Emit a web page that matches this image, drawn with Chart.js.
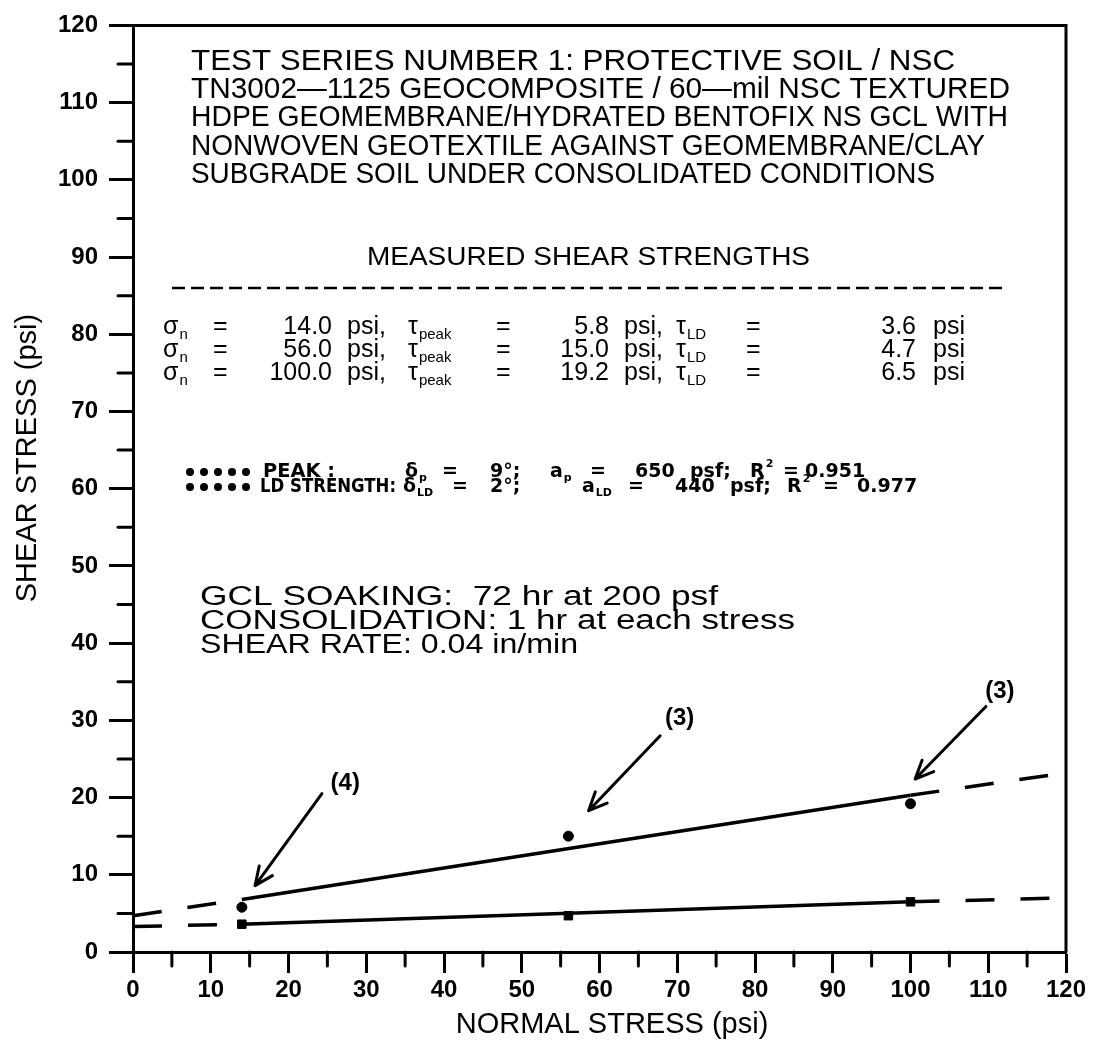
<!DOCTYPE html>
<html>
<head>
<meta charset="utf-8">
<script src="https://cdn.jsdelivr.net/npm/chart.js@4.4.1/dist/chart.umd.min.js"></script>
<style>
  html, body { margin: 0; padding: 0; background: #fff; }
</style>
</head>
<body>
<canvas id="myChart" width="1094" height="1046"></canvas>
<script>
// measured points
const normalStress = [14, 56, 100];
const peakShear = [5.8, 15.0, 19.2];
const ldShear = [3.6, 4.7, 6.5];

// fitted envelopes (dashed outside the test range)
const fitStress = [0, 14, 100, 120];
const peakFit = [4.7, 6.8, 20.3, 23.2];
const ldFit = [3.3, 3.6, 6.5, 7.0];

const tickLabels = ['0', '10', '20', '30', '40', '50', '60', '70', '80', '90', '100', '110', '120'];

const titleLines = [
  'TEST SERIES NUMBER 1: PROTECTIVE SOIL / NSC',
  'TN3002\u20141125 GEOCOMPOSITE / 60\u2014mil NSC TEXTURED',
  'HDPE GEOMEMBRANE/HYDRATED BENTOFIX NS GCL WITH',
  'NONWOVEN GEOTEXTILE AGAINST GEOMEMBRANE/CLAY',
  'SUBGRADE SOIL UNDER CONSOLIDATED CONDITIONS'
];
const testNotes = [
  'GCL SOAKING:  72 hr at 200 psf',
  'CONSOLIDATION: 1 hr at each stress',
  'SHEAR RATE: 0.04 in/min'
];

// callouts: number of specimens
const callouts = [
  { label: '(4)', at: [27.3, 21.9], from: [24.3, 20.5], to: [15.7, 8.6] },
  { label: '(3)', at: [70.3, 30.3], from: [67.8, 28.0], to: [58.6, 18.3] },
  { label: '(3)', at: [111.5, 33.8], from: [109.7, 31.8], to: [100.6, 22.4] }
];

const FONT = '"Liberation Sans", Arial, sans-serif';
const WIDE = '"DejaVu Sans", sans-serif';

function pts(xs, ys) {
  return xs.map((x, i) => ({ x: x, y: ys[i] }));
}

// text squeezed / stretched to a given width
function fitText(ctx, s, x, y, size, w, weight, fam) {
  ctx.font = (weight || '') + ' ' + size + 'px ' + (fam || FONT);
  let m = ctx.measureText(s).width;
  ctx.save();
  ctx.translate(x, y);
  if (w) ctx.scale(w / m, 1);
  ctx.fillText(s, 0, 0);
  ctx.restore();
}

// pieces: string or {sub} / {sup}
function rich(ctx, pieces, x, y, size, weight, fam) {
  let cx = x;
  pieces.forEach(p => {
    if (typeof p === 'string') {
      ctx.font = (weight || '') + ' ' + size + 'px ' + (fam || FONT);
      ctx.fillText(p, cx, y);
      cx += ctx.measureText(p).width;
    } else {
      let s = Math.round(size * 0.6);
      ctx.font = (weight || '') + ' ' + s + 'px ' + (fam || FONT);
      let dy = p.sub ? size * 0.32 : -size * 0.42;
      let t = p.sub || p.sup;
      ctx.fillText(t, cx + 1, y + dy);
      cx += ctx.measureText(t).width + 2;
    }
  });
  return cx;
}

const decor = {
  id: 'decor',
  afterDraw(chart) {
    const ctx = chart.ctx;
    const a = chart.chartArea;
    const xs = chart.scales.x, ys = chart.scales.y;
    ctx.save();
    ctx.strokeStyle = '#000';
    ctx.fillStyle = '#000';
    ctx.lineCap = 'round';

    // frame top and right
    ctx.lineWidth = 3;
    ctx.beginPath();
    ctx.moveTo(a.left, a.top);
    ctx.lineTo(a.right, a.top);
    ctx.lineTo(a.right, a.bottom);
    ctx.stroke();

    // minor ticks
    for (let v = 5; v < 120; v += 10) {
      let px = xs.getPixelForValue(v);
      ctx.beginPath();
      ctx.moveTo(px, a.bottom);
      ctx.lineTo(px, a.bottom + 14);
      ctx.stroke();
      let py = ys.getPixelForValue(v);
      ctx.beginPath();
      ctx.moveTo(a.left - 15, py);
      ctx.lineTo(a.left, py);
      ctx.stroke();
    }

    ctx.textBaseline = 'middle';
    ctx.textAlign = 'left';

    // header block
    const titleW = [764, 819, 817, 794, 744];
    const titleY = [62, 90, 118, 147, 175];
    titleLines.forEach((s, i) => fitText(ctx, s, 191, titleY[i], 29, titleW[i]));

    fitText(ctx, 'MEASURED SHEAR STRENGTHS', 367, 258, 25, 443);
    ctx.lineWidth = 2.5;
    ctx.lineCap = 'butt';
    ctx.setLineDash([13, 6]);
    ctx.beginPath();
    ctx.moveTo(172, 288);
    ctx.lineTo(1005, 288);
    ctx.stroke();
    ctx.setLineDash([]);

    // measured values table
    const rowY = [327, 350, 373];
    const sz = 25;
    normalStress.forEach((sn, i) => {
      let y = rowY[i];
      ctx.textAlign = 'left';
      rich(ctx, ['\u03c3', { sub: 'n' }], 163, y, sz);
      fitText(ctx, '=', 213, y, sz);
      fitText(ctx, 'psi,', 347, y, sz);
      rich(ctx, ['\u03c4', { sub: 'peak' }], 408, y, sz);
      fitText(ctx, '=', 496, y, sz);
      fitText(ctx, 'psi,', 624, y, sz);
      rich(ctx, ['\u03c4', { sub: 'LD' }], 676, y, sz);
      fitText(ctx, '=', 746, y, sz);
      fitText(ctx, 'psi', 933, y, sz);
      ctx.textAlign = 'right';
      fitText(ctx, sn.toFixed(1), 332, y, sz);
      fitText(ctx, peakShear[i].toFixed(1), 609, y, sz);
      fitText(ctx, ldShear[i].toFixed(1), 916, y, sz);
    });
    ctx.textAlign = 'left';

    // fit legend
    const ly = [472, 487];
    ly.forEach(y => {
      for (let k = 0; k < 5; k++) {
        ctx.beginPath();
        ctx.arc(190 + k * 14, y, 4, 0, Math.PI * 2);
        ctx.fill();
      }
    });
    const lz = 19, bw = 'bold';
    const L = (s, x, y, w) => fitText(ctx, s, x, y, lz, w || 0, bw, WIDE);
    const R = (p, x, y) => rich(ctx, p, x, y, lz, bw, WIDE);
    L('PEAK :', 263, ly[0], 72);
    R(['\u03b4', { sub: 'p' }], 405, ly[0]);
    L('=', 442, ly[0]);
    L('9\u00b0;', 490, ly[0]);
    R(['a', { sub: 'p' }], 550, ly[0]);
    L('=', 590, ly[0]);
    L('650', 635, ly[0]);
    L('psf;', 690, ly[0]);
    R(['R', { sup: '2' }], 750, ly[0]);
    L('=', 783, ly[0]);
    L('0.951', 805, ly[0]);

    L('LD STRENGTH:', 260, ly[1], 136);
    R(['\u03b4', { sub: 'LD' }], 403, ly[1]);
    L('=', 452, ly[1]);
    L('2\u00b0;', 490, ly[1]);
    R(['a', { sub: 'LD' }], 582, ly[1]);
    L('=', 628, ly[1]);
    L('440', 675, ly[1]);
    L('psf;', 730, ly[1]);
    R(['R', { sup: '2' }], 787, ly[1]);
    L('=', 823, ly[1]);
    L('0.977', 857, ly[1]);

    // test conditions
    const noteW = [518, 595, 378];
    const noteY = [598, 622, 646];
    testNotes.forEach((s, i) => fitText(ctx, s, 200, noteY[i], 27, noteW[i]));

    // axis titles
    ctx.textAlign = 'center';
    fitText(ctx, 'NORMAL STRESS (psi)', 612, 1025, 29);
    ctx.save();
    ctx.translate(28, 458);
    ctx.rotate(-Math.PI / 2);
    fitText(ctx, 'SHEAR STRESS (psi)', 0, 0, 29);
    ctx.restore();

    // callout arrows
    ctx.lineWidth = 3;
    ctx.lineCap = 'round';
    callouts.forEach(c => {
      let x0 = xs.getPixelForValue(c.from[0]), y0 = ys.getPixelForValue(c.from[1]);
      let x1 = xs.getPixelForValue(c.to[0]), y1 = ys.getPixelForValue(c.to[1]);
      ctx.beginPath();
      ctx.moveTo(x0, y0);
      ctx.lineTo(x1, y1);
      let ang = Math.atan2(y0 - y1, x0 - x1);
      [-0.42, 0.42].forEach(d => {
        ctx.moveTo(x1, y1);
        ctx.lineTo(x1 + 20 * Math.cos(ang + d), y1 + 20 * Math.sin(ang + d));
      });
      ctx.stroke();
      fitText(ctx, c.label, xs.getPixelForValue(c.at[0]), ys.getPixelForValue(c.at[1]), 24, 0, 'bold');
    });
    ctx.restore();
  }
};

const dashOut = ctx => (ctx.p0DataIndex === 1 ? [] : [29, 26]);

const axisBase = {
  type: 'linear',
  min: 0,
  max: 120,
  ticks: {
    stepSize: 10,
    autoSkip: false,
    maxRotation: 0,
    color: '#000',
    font: { family: FONT, size: 24, weight: 'bold' },
    callback: (v, i) => tickLabels[i]
  },
  border: { display: true, color: '#000', width: 3 },
  grid: { drawOnChartArea: false, drawTicks: true, tickWidth: 3, tickColor: '#000' }
};

const ctx = document.getElementById('myChart').getContext('2d');
const myChart = new Chart(ctx, {
  type: 'scatter',
  data: {
    datasets: [
      {
        label: 'Peak envelope',
        data: pts(fitStress, peakFit),
        showLine: true,
        borderColor: '#000',
        borderWidth: 3.5,
        pointRadius: 0,
        segment: { borderDash: dashOut }
      },
      {
        label: 'LD envelope',
        data: pts(fitStress, ldFit),
        showLine: true,
        borderColor: '#000',
        borderWidth: 3.5,
        pointRadius: 0,
        segment: { borderDash: dashOut }
      },
      {
        label: 'Peak',
        data: pts(normalStress, peakShear),
        pointStyle: 'circle',
        pointRadius: 5,
        backgroundColor: '#000',
        borderColor: '#000'
      },
      {
        label: 'LD',
        data: pts(normalStress, ldShear),
        pointStyle: 'rect',
        pointRadius: 6,
        backgroundColor: '#000',
        borderColor: '#000'
      }
    ]
  },
  options: {
    responsive: false,
    animation: false,
    devicePixelRatio: 1,
    layout: { padding: { top: 21, right: 28, left: 0, bottom: 0 } },
    plugins: {
      legend: { display: false },
      tooltip: { enabled: false }
    },
    scales: {
      x: Object.assign({}, axisBase, {
        position: 'bottom',
        ticks: Object.assign({}, axisBase.ticks, { padding: 3 }),
        grid: Object.assign({}, axisBase.grid, { tickLength: 21 }),
        afterFit: s => { s.height = 94; }
      }),
      y: Object.assign({}, axisBase, {
        position: 'left',
        ticks: Object.assign({}, axisBase.ticks, { padding: 11 }),
        grid: Object.assign({}, axisBase.grid, { tickLength: 24 }),
        afterFit: s => { s.width = 133; }
      })
    }
  },
  plugins: [decor]
});
</script>
</body>
</html>
